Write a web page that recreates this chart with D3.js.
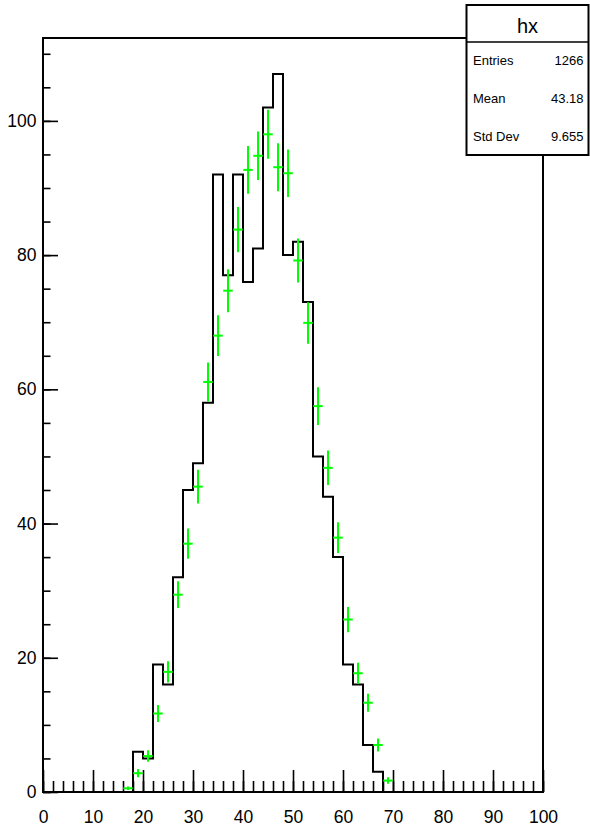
<!DOCTYPE html>
<html>
<head>
<meta charset="utf-8">
<script src="https://cdn.jsdelivr.net/npm/d3@7"></script>
<style>
  body { margin: 0; background: #fff; }
  svg text { font-family: "Liberation Sans", Arial, sans-serif; }
</style>
</head>
<body>
<svg id="chart"></svg>
<script>
// black histogram: low edge of each filled bin (width 2) and its content
const binLow = [18, 20, 22, 24, 26, 28, 30, 32, 34, 36, 38, 40, 42, 44, 46, 48, 50, 52, 54, 56, 58, 60, 62, 64, 66];
const binCounts = [6, 5, 19, 16, 32, 45, 49, 58, 92, 77, 92, 76, 81, 102, 107, 80, 82, 73, 50, 44, 35, 19, 16, 7, 3];

// green points with error bars
const pointX = [17, 19, 21, 23, 25, 27, 29, 31, 33, 35, 37, 39, 41, 43, 45, 47, 49, 51, 53, 55, 57, 59, 61, 63, 65, 67, 69];
const pointY = [0.55, 2.8, 5.35, 11.7, 17.9, 29.4, 37.0, 45.5, 61.1, 68.0, 74.7, 83.8, 92.7, 94.8, 98.0, 93.1, 92.2, 79.2, 69.9, 57.5, 48.3, 37.9, 25.7, 17.7, 13.3, 7.0, 1.7];
const pointErr = [0.27, 0.62, 0.86, 1.27, 1.57, 2.0, 2.25, 2.5, 2.9, 3.05, 3.2, 3.38, 3.56, 3.6, 3.66, 3.57, 3.55, 3.29, 3.09, 2.8, 2.57, 2.28, 1.88, 1.56, 1.35, 0.98, 0.48];

const xTicks = [0, 10, 20, 30, 40, 50, 60, 70, 80, 90, 100];
const xMinorTicks = d3.range(0, 101, 2);
const yTicks = [0, 20, 40, 60, 80, 100];
const yMinorTicks = [0, 5, 10, 15, 20, 25, 30, 35, 40, 45, 50, 55, 60, 65, 70, 75, 80, 85, 90, 95, 100, 105, 110];

const histName = 'hx';
const statLabels = ['Entries', 'Mean', 'Std Dev'];
const statValues = ['1266', '43.18', '9.655'];

class HistChart {
    constructor(config) {
        this.config = {
            parent: config.parent,
            width: config.width || 590,
            height: config.height || 830,
            margin: config.margin || {top: 38, right: 47, bottom: 38, left: 43},
            xmax: config.xmax || 100,
            ymax: config.ymax || 112.35
        };
        this.init();
    }

    init() {
        let self = this;

        self.svg = d3.select(self.config.parent)
            .attr('width', self.config.width)
            .attr('height', self.config.height);

        self.chart = self.svg.append('g')
            .attr('transform', `translate(${self.config.margin.left}, ${self.config.margin.top})`);

        self.inner_width = self.config.width - self.config.margin.left - self.config.margin.right;
        self.inner_height = self.config.height - self.config.margin.top - self.config.margin.bottom;

        self.xscale = d3.scaleLinear()
            .domain([0, self.config.xmax])
            .range([0, self.inner_width]);

        self.yscale = d3.scaleLinear()
            .domain([0, self.config.ymax])
            .range([self.inner_height, 0]);
    }

    render() {
        let self = this;
        const x = self.xscale, y = self.yscale;

        // axes: ticks point into the frame
        const xminor = self.chart.append('g')
            .attr('transform', `translate(0, ${self.inner_height})`)
            .call(d3.axisBottom(x).tickValues(xMinorTicks).tickSize(-11).tickFormat(''));
        const xmajor = self.chart.append('g')
            .attr('transform', `translate(0, ${self.inner_height})`)
            .call(d3.axisBottom(x).tickValues(xTicks).tickSize(-22).tickPadding(18.5).tickFormat(d3.format('d')));
        const yminor = self.chart.append('g')
            .call(d3.axisLeft(y).tickValues(yMinorTicks).tickSize(-7.5).tickFormat(''));
        const ymajor = self.chart.append('g')
            .call(d3.axisLeft(y).tickValues(yTicks).tickSize(-15).tickPadding(6.5).tickFormat(d3.format('d')));

        [xminor, xmajor, yminor, ymajor].forEach(g => {
            g.select('.domain').remove();
            g.selectAll('line').attr('stroke', '#000').attr('stroke-width', 1.6);
            g.selectAll('text')
                .attr('fill', '#000')
                .style('font-size', '17.5px')
                .style('font-family', '"Liberation Sans", Arial, sans-serif');
        });

        // frame
        self.chart.append('rect')
            .attr('x', 0)
            .attr('y', 0)
            .attr('width', self.inner_width)
            .attr('height', self.inner_height)
            .attr('fill', 'none')
            .attr('stroke', '#000')
            .attr('stroke-width', 2);

        // histogram outline
        const steps = [{x: 0, y: 0}]
            .concat(binLow.map((b, i) => ({x: b, y: binCounts[i]})))
            .concat([{x: binLow[binLow.length - 1] + 2, y: 0}, {x: self.config.xmax, y: 0}]);

        const line = d3.line()
            .x(d => x(d.x))
            .y(d => y(d.y))
            .curve(d3.curveStepAfter);

        self.chart.append('path')
            .datum(steps)
            .attr('d', line)
            .attr('fill', 'none')
            .attr('stroke', '#000')
            .attr('stroke-width', 2);

        // green error bars
        const pts = pointX.map((px, i) => ({x: px, y: pointY[i], e: pointErr[i]}));
        const marks = self.chart.append('g')
            .attr('stroke', '#00ff00')
            .attr('stroke-width', 2);

        marks.selectAll('line.ex')
            .data(pts)
            .join('line')
            .attr('class', 'ex')
            .attr('x1', d => x(d.x - 0.95))
            .attr('x2', d => x(d.x + 0.95))
            .attr('y1', d => y(d.y))
            .attr('y2', d => y(d.y));

        marks.selectAll('line.ey')
            .data(pts)
            .join('line')
            .attr('class', 'ey')
            .attr('x1', d => x(d.x))
            .attr('x2', d => x(d.x))
            .attr('y1', d => y(d.y - d.e))
            .attr('y2', d => y(d.y + d.e));

        // stats box
        const box = self.svg.append('g')
            .attr('transform', 'translate(466.5, 5)');
        const bw = 122, bh = 150, th = 37;

        box.append('rect')
            .attr('width', bw)
            .attr('height', bh)
            .attr('fill', '#fff')
            .attr('stroke', '#000')
            .attr('stroke-width', 2);

        box.append('line')
            .attr('x1', 0).attr('x2', bw)
            .attr('y1', th).attr('y2', th)
            .attr('stroke', '#000')
            .attr('stroke-width', 1.5);

        box.append('text')
            .attr('x', bw / 2)
            .attr('y', 28)
            .attr('text-anchor', 'middle')
            .style('font-size', '20px')
            .text(histName);

        const rowH = (bh - th) / statLabels.length;
        const rows = box.selectAll('g.row')
            .data(statLabels)
            .join('g')
            .attr('class', 'row')
            .attr('transform', (d, i) => `translate(0, ${th + rowH * (i + 0.5)})`);

        rows.append('text')
            .attr('x', 6.5)
            .attr('dy', '0.35em')
            .style('font-size', '13px')
            .text(d => d);

        rows.append('text')
            .attr('x', bw - 5)
            .attr('dy', '0.35em')
            .attr('text-anchor', 'end')
            .style('font-size', '13px')
            .text((d, i) => statValues[i]);
    }
}

const chart = new HistChart({parent: '#chart'});
chart.render();
</script>
</body>
</html>
